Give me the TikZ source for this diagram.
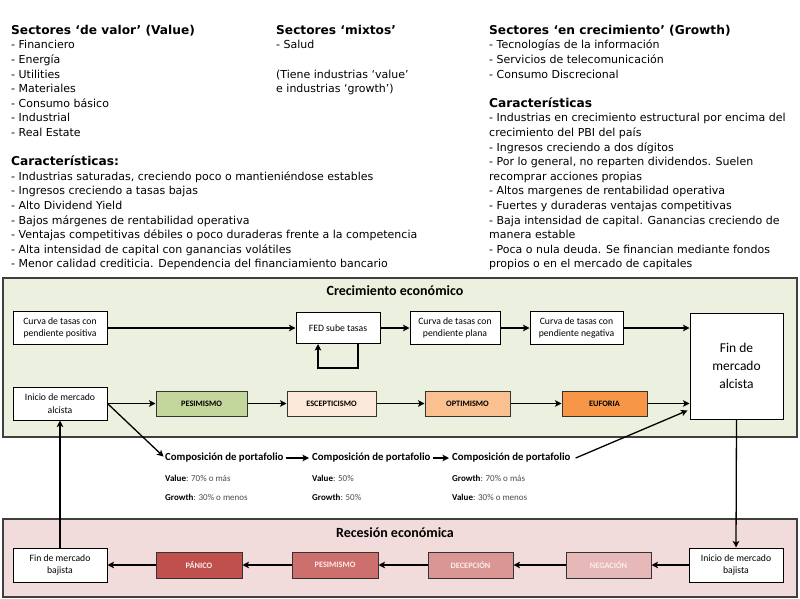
\documentclass[tikz,border=0pt]{standalone}
\usepackage{fontspec}
\setmainfont{DejaVu Sans}
\newfontfamily\carl{Carlito}
\usetikzlibrary{arrows.meta,calc}
\definecolor{greenbg}{HTML}{EBF1DE}
\definecolor{redbg}{HTML}{F2DCDB}
\definecolor{framegray}{HTML}{3F3F3F}
\definecolor{cpes}{HTML}{C3D69B}
\definecolor{cesc}{HTML}{FDE9D9}
\definecolor{copt}{HTML}{FAC090}
\definecolor{ceuf}{HTML}{F79646}
\definecolor{cpan}{HTML}{C0504D}
\definecolor{cpesr}{HTML}{CD6F6C}
\definecolor{cdec}{HTML}{D99694}
\definecolor{cneg}{HTML}{E6B9B8}
\definecolor{pinktext}{HTML}{FBEDEC}
\newcommand\hdr[1]{{\fontsize{12.2}{14.6}\selectfont\bfseries #1}}
\tikzset{
  toptext/.style={anchor=north west, inner sep=0pt, align=left, font=\fontsize{11}{14.6}\selectfont},
  region/.style={draw=framegray, line width=1.3pt},
  regiontitle/.style={font=\carl\bfseries\fontsize{14}{16}\selectfont},
  wbox/.style={draw=black, line width=1pt, fill=white, align=center, inner sep=1pt,
    font=\carl\fontsize{9.7}{12.5}\selectfont},
  cbox/.style={draw=black!80, line width=1pt, align=center, inner sep=1pt,
    minimum height=25pt, font=\carl\bfseries\fontsize{8.3}{10}\selectfont},
  arr/.style={draw=black, line width=1.3pt, -{Stealth[length=6.5pt,width=6.5pt,inset=1.5pt]}},
  comptitle/.style={anchor=west, inner sep=0pt, font=\carl\bfseries\fontsize{10.8}{12}\selectfont},
  compline/.style={anchor=west, inner sep=0pt, text=black!70, font=\carl\fontsize{9}{10}\selectfont},
}
\begin{document}
\begin{tikzpicture}[x=1pt,y=-1pt]
\useasboundingbox[fill=white] (0,0) rectangle (800,599);

% ---------- top texts ----------
\node[toptext] (valtext) at (11,24.8) {\hdr{Sectores ‘de valor’ (Value)}\\
- Financiero\\
- Energía\\
- Utilities\\
- Materiales\\
- Consumo básico\\
- Industrial\\
- Real Estate\\
\mbox{}\\
\hdr{Características:}\\
- Industrias saturadas, creciendo poco o mantieniéndose estables\\
- Ingresos creciendo a tasas bajas\\
- Alto Dividend Yield\\
- Bajos márgenes de rentabilidad operativa\\
- Ventajas competitivas débiles o poco duraderas frente a la competencia\\
- Alta intensidad de capital con ganancias volátiles\\
- Menor calidad crediticia. Dependencia del financiamiento bancario};

\node[toptext] (mixtext) at (276,24.8) {\hdr{Sectores ‘mixtos’}\\
- Salud\\
\mbox{}\\
(Tiene industrias ‘value’\\
e industrias ‘growth’)};

\node[toptext] (grotext) at (489,24.8) {\hdr{Sectores ‘en crecimiento’ (Growth)}\\
- Tecnologías de la información\\
- Servicios de telecomunicación\\
- Consumo Discrecional\\
\mbox{}\\
\hdr{Características}\\
- Industrias en crecimiento estructural por encima del\\
crecimiento del PBI del país\\
- Ingresos creciendo a dos dígitos\\
- Por lo general, no reparten dividendos. Suelen\\
recomprar acciones propias\\
- Altos margenes de rentabilidad operativa\\
- Fuertes y duraderas ventajas competitivas\\
- Baja intensidad de capital. Ganancias creciendo de\\
manera estable\\
- Poca o nula deuda. Se financian mediante fondos\\
propios o en el mercado de capitales};

% ---------- regions ----------
\path[region, fill=greenbg] (3,278) rectangle (797,437);
\node[regiontitle] (gtitle) at (395,291) {Crecimiento económico};
\path[region, fill=redbg] (3,519) rectangle (797,597);
\node[regiontitle] (rtitle) at (395,533) {Recesión económica};

% ---------- growth row 1 ----------
\node[wbox, minimum width=94pt, minimum height=33pt] (cpos) at (60,328) {Curva de tasas con\\pendiente positiva};
\node[wbox, minimum width=84pt, minimum height=31pt] (fed) at (338,328) {FED sube tasas};
\node[wbox, minimum width=90pt, minimum height=33pt] (plana) at (455,328) {Curva de tasas con\\pendiente plana};
\node[wbox, minimum width=93pt, minimum height=33pt] (negat) at (576.5,328) {Curva de tasas con\\pendiente negativa};
\node[wbox, minimum width=93pt, minimum height=106pt, font=\carl\fontsize{13.5}{18}\selectfont] (finA) at (736.5,366) {Fin de\\mercado\\alcista};

% ---------- growth row 2 ----------
\node[wbox, minimum width=94pt, minimum height=33pt] (inicioA) at (60,403.5) {Inicio de mercado\\alcista};
\node[cbox, fill=cpes, minimum width=91pt] (pes) at (201.5,403.5) {PESIMISMO};
\node[cbox, fill=cesc, minimum width=89pt] (esc) at (331.5,403.5) {ESCEPTICISMO};
\node[cbox, fill=copt, minimum width=85pt] (opt) at (467.5,403.5) {OPTIMISMO};
\node[cbox, fill=ceuf, minimum width=85pt] (euf) at (604.5,403.5) {EUFORIA};

% ---------- portfolio ----------
\node[comptitle] (comp1) at (165,458) {Composición de portafolio};
\node[comptitle] (comp2) at (312,458) {Composición de portafolio};
\node[comptitle] (comp3) at (452,458) {Composición de portafolio};
\node[compline] (c1a) at (165,478) {\textcolor{black}{\bfseries Value}: 70\% o más};
\node[compline] (c1b) at (165,497) {\textcolor{black}{\bfseries Growth}: 30\% o menos};
\node[compline] (c2a) at (312,478) {\textcolor{black}{\bfseries Value}: 50\%};
\node[compline] (c2b) at (312,497) {\textcolor{black}{\bfseries Growth}: 50\%};
\node[compline] (c3a) at (452,478) {\textcolor{black}{\bfseries Growth}: 70\% o más};
\node[compline] (c3b) at (452,497) {\textcolor{black}{\bfseries Value}: 30\% o menos};

% ---------- recession row ----------
\node[wbox, minimum width=94pt, minimum height=34pt] (finB) at (60,565) {Fin de mercado\\bajista};
\node[cbox, fill=cpan, text=pinktext, minimum width=86pt, minimum height=26pt] (pan) at (199,565) {PÁNICO};
\node[cbox, fill=cpesr, text=pinktext, minimum width=86pt, minimum height=26pt] (pesr) at (335,565) {PESIMISMO};
\node[cbox, fill=cdec, text=pinktext, minimum width=85pt, minimum height=26pt] (dec) at (470.5,565) {DECEPCIÓN};
\node[cbox, fill=cneg, text=pinktext, minimum width=85pt, minimum height=26pt] (negc) at (608.5,565) {NEGACIÓN};
\node[wbox, minimum width=94pt, minimum height=34pt] (inicioB) at (736,565) {Inicio de mercado\\bajista};

% ---------- connectors ----------
\draw[arr] (cpos.east) -- (fed.west);
\draw[arr] (fed.east) -- (plana.west);
\draw[arr] (plana.east) -- (negat.west);
\draw[arr] (negat.east) -- (negat.east -| finA.west);
\draw[arr] ([xshift=20pt]fed.south) -- ++(0,24) -| ([xshift=-20pt]fed.south);

\draw[arr] (inicioA.east) -- (pes.west);
\draw[arr] (pes.east) -- (esc.west);
\draw[arr] (esc.east) -- (opt.west);
\draw[arr] (opt.east) -- (euf.west);
\draw[arr] (euf.east) -- (euf.east -| finA.west);

\draw[arr, shorten >=2pt] (inicioA.east) -- (comp1.west);
\draw[arr] ([xshift=2pt]comp1.east) -- ([xshift=-3pt]comp2.west);
\draw[arr] ([xshift=2pt]comp2.east) -- ([xshift=-3pt]comp3.west);
\draw[arr] ([xshift=5pt]comp3.east) -- ([xshift=-2pt,yshift=9pt]finA.south west);

\draw[arr] (finA.south) -- (inicioB.north);
\draw[arr] (inicioB.west) -- (negc.east);
\draw[arr] (negc.west) -- (dec.east);
\draw[arr] (dec.west) -- (pesr.east);
\draw[arr] (pesr.west) -- (pan.east);
\draw[arr] (pan.west) -- (finB.east);
\draw[arr] (finB.north) -- (inicioA.south);
\end{tikzpicture}
\end{document}
